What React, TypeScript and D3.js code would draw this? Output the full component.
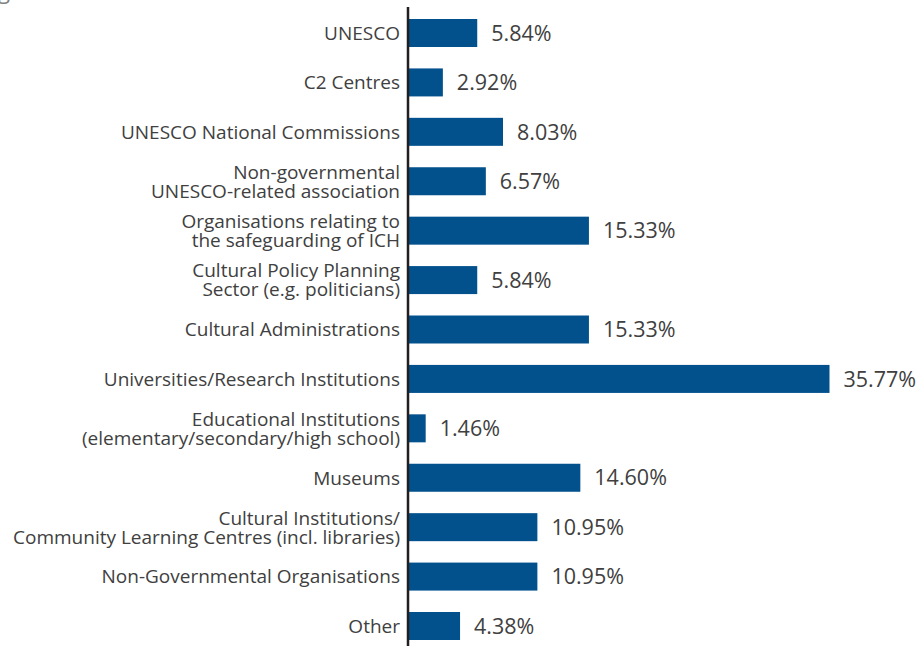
import React from "react";
import * as d3 from "d3";

const categories: string[] = [
  "UNESCO",
  "C2 Centres",
  "UNESCO National Commissions",
  "Non-governmental\nUNESCO-related association",
  "Organisations relating to\nthe safeguarding of ICH",
  "Cultural Policy Planning\nSector (e.g. politicians)",
  "Cultural Administrations",
  "Universities/Research Institutions",
  "Educational Institutions\n(elementary/secondary/high school)",
  "Museums",
  "Cultural Institutions/\nCommunity Learning Centres (incl. libraries)",
  "Non-Governmental Organisations",
  "Other",
];

const values: number[] = [5.84, 2.92, 8.03, 6.57, 15.33, 5.84, 15.33, 35.77, 1.46, 14.6, 10.95, 10.95, 4.38];

const W = 922;
const H = 646;

export default function App() {
  const x = d3.scaleLinear().domain([0, 35.77]).range([408.5, 829.5]);
  const y = d3.scalePoint<string>().domain(categories).range([33, 626]);
  const barH = 28;
  const textColor = "#404040";
  const font = "'Open Sans', 'Noto Sans', sans-serif";

  return (
    <svg
      width={W}
      height={H}
      style={{ position: "absolute", left: 0, top: 0, background: "#fff" }}
      fontFamily={font}
    >
      <text x={-2} y={-1} fontSize={22} fill="#808080">g</text>
      {categories.map((c, i) => {
        const cy = y(c)!;
        const lines = c.split("\n");
        const lh = 19;
        const start = cy - ((lines.length - 1) * lh) / 2;
        return (
          <g key={c}>
            <rect x={x(0)} y={cy - barH / 2} width={x(values[i]) - x(0)} height={barH} fill="#02508c" />
            <text
              x={x(values[i]) + 14}
              y={cy}
              dy="0.36em"
              fontSize={21.5}
              fill={textColor}
            >
              {values[i].toFixed(2) + "%"}
            </text>
            <text x={400} y={start} fontSize={19} fill={textColor} textAnchor="end">
              {lines.map((l, k) => (
                <tspan key={k} x={400} y={start + k * lh} dy="0.36em">
                  {l}
                </tspan>
              ))}
            </text>
          </g>
        );
      })}
      <line x1={408} x2={408} y1={7} y2={H} stroke="#231f20" strokeWidth={2.5} />
    </svg>
  );
}
